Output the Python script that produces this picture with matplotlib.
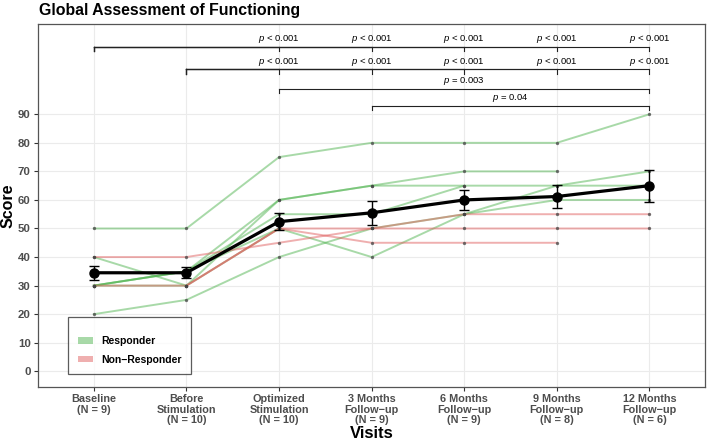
import numpy as np
import matplotlib
matplotlib.use("Agg")
import matplotlib.pyplot as plt
from matplotlib.patches import Patch

plt.rcParams["font.family"] = ["Liberation Sans", "DejaVu Sans"]
plt.rcParams["mathtext.fontset"] = "custom"
plt.rcParams["mathtext.it"] = "Liberation Sans:italic"
plt.rcParams["mathtext.rm"] = "Liberation Sans"

# visits
visits = ["Baseline", "Before\nStimulation", "Optimized\nStimulation",
          "3 Months\nFollow\u2212up", "6 Months\nFollow\u2212up",
          "9 Months\nFollow\u2212up", "12 Months\nFollow\u2212up"]

nan = np.nan
# individual patients (score per visit)
responders = [
    [50, 50, 75, 80, 80, 80, 90],
    [40, 30, 60, 65, 70, 70, nan],
    [30, 35, 60, 65, 65, 65, 65],
    [30, 35, 55, 55, 65, nan, nan],
    [30, 30, 50, 40, 55, 65, 70],
    [20, 25, 40, 50, 55, 60, 60],
    [30, 35, 50, nan, nan, nan, nan],
]
non_responders = [
    [40, 40, 45, 50, 55, 55, 55],
    [30, 30, 50, 45, 45, 45, nan],
    [nan, 30, 50, 50, 50, 50, 50],
]

# mean +/- error
mean_score = [34.5, 34.5, 52.4, 55.5, 60.0, 61.2, 65.0]
mean_err = [2.5, 1.9, 3.0, 4.1, 3.6, 3.9, 5.6]

# significance brackets: (row, start, end, label, text position)
brackets = [
    (113.7, 0, 2, "< 0.001", 2), (113.7, 0, 3, "< 0.001", 3), (113.7, 0, 4, "< 0.001", 4),
    (113.7, 0, 5, "< 0.001", 5), (113.7, 0, 6, "< 0.001", 6),
    (105.7, 1, 2, "< 0.001", 2), (105.7, 1, 3, "< 0.001", 3), (105.7, 1, 4, "< 0.001", 4),
    (105.7, 1, 5, "< 0.001", 5), (105.7, 1, 6, "< 0.001", 6),
    (98.8, 2, 6, "= 0.003", 4),
    (92.9, 3, 6, "= 0.04", 4.5),
]

green = "#52B552"
red = "#E06060"
x = np.arange(len(visits))

all_rows = np.array(responders + non_responders, dtype=float)
n_per_visit = np.sum(~np.isnan(all_rows), axis=0)
tick_labels = [f"{v}\n(N = {n})" for v, n in zip(visits, n_per_visit)]

fig = plt.figure(figsize=(7.09, 4.42), dpi=100)
ax = fig.add_axes([0.054, 0.1238, 0.9404, 0.8212])

for row in responders:
    ax.plot(x, row, color=green, alpha=0.5, lw=1.4, zorder=2)
for row in non_responders:
    ax.plot(x, row, color=red, alpha=0.5, lw=1.4, zorder=2)
for row in all_rows:
    ax.plot(x, row, "o", color="#444444", alpha=0.75, ms=2.4, mec="none", zorder=3)

ax.errorbar(x, mean_score, yerr=mean_err, color="black", lw=2.3, marker="o", ms=6.5,
            elinewidth=1.0, capsize=3.3, capthick=1.0, zorder=5)

# brackets
tick_len = 1.5
for y, a, b, lab, tx in brackets:
    ax.plot([a, b], [y, y], color="#222222", lw=0.8, zorder=4)
    ax.plot([a, a], [y, y - tick_len], color="#222222", lw=0.8, zorder=4)
    ax.plot([b, b], [y, y - tick_len], color="#222222", lw=0.8, zorder=4)
    ax.text(tx, y + 0.6, "$p$ " + lab, ha="center", va="bottom", fontsize=6.8, color="black")

ax.set_xlim(-0.6, 6.6)
ax.set_ylim(-5.6, 121.5)
ax.set_yticks(np.arange(0, 100, 10))
ax.set_xticks(x)
ax.set_xticklabels(tick_labels, fontsize=7.8, fontweight="bold", color="#4D4D4D", linespacing=1.05)
ax.tick_params(axis="y", labelsize=8.2, labelcolor="#4D4D4D", length=3, color="#333333", pad=2.5)
ax.tick_params(axis="x", length=3, color="#333333", pad=2)
for lbl in ax.get_yticklabels():
    lbl.set_fontweight("bold")

ax.grid(True, color="#EBEBEB", lw=0.8)
ax.set_axisbelow(True)
for sp in ax.spines.values():
    sp.set_color("#555555")
    sp.set_linewidth(0.9)

ax.set_xlabel("Visits", fontsize=12, fontweight="bold", labelpad=1)
ax.set_ylabel("Score", fontsize=11.5, fontweight="bold")
ax.yaxis.set_label_coords(-0.034, 0.5)
fig.text(0.055, 0.977, "Global Assessment of Functioning", fontsize=11.4,
         fontweight="bold", ha="left", va="center")

handles = [Patch(facecolor=green, alpha=0.5, edgecolor="none", label="Responder"),
           Patch(facecolor=red, alpha=0.5, edgecolor="none", label="Non\u2212Responder")]
leg = ax.legend(handles=handles, loc="lower left", bbox_to_anchor=(0.045, 0.036),
                borderaxespad=0, frameon=True, fancybox=False, fontsize=7.5,
                title=" ", title_fontsize=1,
                handlelength=1.5, handleheight=0.6, handletextpad=0.8,
                borderpad=0.9, labelspacing=0.85)
leg.get_frame().set_edgecolor("#333333")
leg.get_frame().set_linewidth(0.9)
for t in leg.get_texts():
    t.set_fontweight("bold")

fig.savefig("out.png", dpi=100)
